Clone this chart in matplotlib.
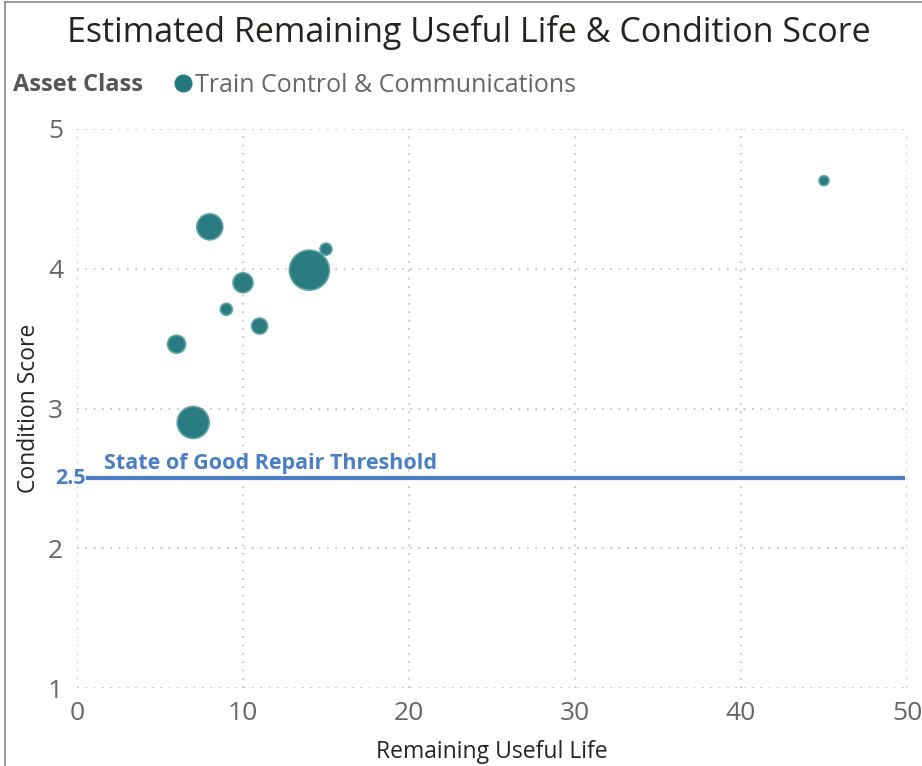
import matplotlib.pyplot as plt
from matplotlib.lines import Line2D

# data
remaining_life = [45, 8, 15, 14, 10, 9, 11, 6, 7]
condition_score = [4.63, 4.30, 4.14, 3.99, 3.90, 3.71, 3.59, 3.46, 2.90]
bubble_value = [5, 13, 6, 20, 10, 6, 8, 9, 16]   # relative bubble radius
threshold = 2.5
asset_class = 'Train Control & Communications'

teal = '#25797D'
blue = '#4A7EC2'
grey = '#666666'

plt.rcParams['font.family'] = ['Open Sans', 'DejaVu Sans']

fig = plt.figure(figsize=(9.22, 7.66), dpi=100)
ax = fig.add_axes([0.0835, 0.1018, 0.9002, 0.7298])

sizes = [(1.44 * b) ** 2 for b in bubble_value]
ax.scatter(remaining_life, condition_score, s=sizes, color=teal,
           edgecolors='#5FA3A6', linewidths=1.2, alpha=0.98, zorder=3)

ax.axhline(threshold, xmin=0.013, xmax=0.995, color=blue, lw=3, zorder=2)
ax.text(1.6, threshold + 0.03, 'State of Good Repair Threshold', color=blue,
        fontsize=15.5, fontweight='bold', va='bottom', ha='left')
ax.text(0.55, threshold, str(threshold), color=blue, fontsize=15.5,
        fontweight='bold', va='center', ha='right')

ax.set_xlim(0, 50)
ax.set_ylim(1, 5)
ax.set_xticks([0, 10, 20, 30, 40, 50])
ax.set_yticks([1, 2, 3, 4, 5])
ax.grid(True, linestyle=(0, (1, 4)), color='#BBBBBB', lw=1.2)
ax.set_axisbelow(True)
for s in ax.spines.values():
    s.set_visible(False)
ax.tick_params(length=0, labelsize=19, labelcolor=grey)
ax.tick_params(axis='x', pad=9)
ax.tick_params(axis='y', pad=10)

ax.set_xlabel('Remaining Useful Life', fontsize=16.5, color='#252423')
ax.set_ylabel('Condition Score', fontsize=16.5, color='#252423')
ax.xaxis.set_label_coords(0.5, -0.093)
ax.yaxis.set_label_coords(-0.043, 0.5)

fig.text(0.508, 0.957, 'Estimated Remaining Useful Life & Condition Score',
         ha='center', va='center', fontsize=24.5, color='#252423')

# legend row
fig.text(0.014, 0.889, 'Asset Class', fontsize=17, fontweight='bold',
         color='#555555', va='center')
fig.add_artist(Line2D([0.1985], [0.891], marker='o', markersize=12, color=teal,
                      transform=fig.transFigure))
fig.text(0.212, 0.889, asset_class, fontsize=18, color=grey, va='center')

# visual frame
fig.add_artist(Line2D([0.005, 0.005], [0, 0.998], color='#888888', lw=1.2,
                      transform=fig.transFigure))
fig.add_artist(Line2D([0.005, 1], [0.998, 0.998], color='#888888', lw=1.2,
                      transform=fig.transFigure))

fig.savefig('out.png', dpi=100)
